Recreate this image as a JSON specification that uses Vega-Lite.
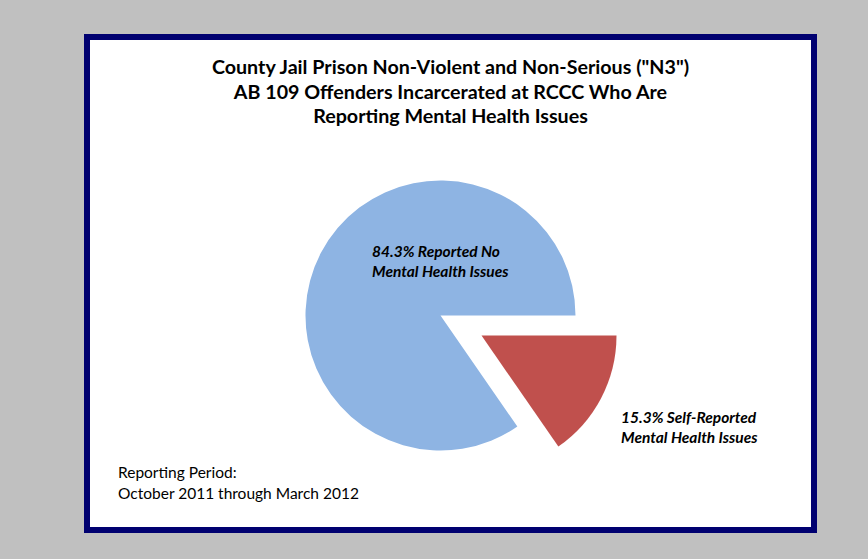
{
  "$schema": "https://vega.github.io/schema/vega-lite/v6.json",
  "width": 727,
  "height": 493,
  "autosize": {"type": "none"},
  "padding": {"left": 87, "top": 37, "right": 54, "bottom": 29},
  "background": "#C0C0C0",
  "view": {"fill": "white", "stroke": "#000070", "strokeWidth": 6},
  "config": {
    "font": "Lato"
  },
  "title": {
    "text": ["County Jail Prison Non-Violent and Non-Serious (\"N3\")", "AB 109  Offenders Incarcerated at RCCC Who Are", "Reporting Mental Health Issues"],
    "font": "Lato",
    "fontSize": 19.7,
    "fontWeight": "bold",
    "color": "black",
    "anchor": "middle",
    "frame": "group",
    "baseline": "top",
    "lineHeight": 24.5,
    "offset": -90
  },
  "data": {
    "values": [
      {"group": "No Mental Health Issues", "value": 84.3, "label": "84.3% Reported No\nMental Health Issues"},
      {"group": "Self-Reported Mental Health Issues", "value": 15.3, "label": "15.3% Self-Reported\nMental Health Issues"}
    ]
  },
  "layer": [
    {
      "mark": {"type": "arc", "outerRadius": 135, "xOffset": -10, "yOffset": 32},
      "encoding": {
        "theta": {"field": "value", "type": "quantitative", "stack": true, "scale": {"range": [1.5708, 7.854], "nice": false}},
        "order": {"field": "value", "type": "quantitative", "sort": "ascending"},
        "color": {"field": "group", "type": "nominal", "scale": {"domain": ["No Mental Health Issues", "Self-Reported Mental Health Issues"], "range": ["#8EB4E3", "#C0504D"]}, "legend": null},
        "opacity": {"condition": {"test": "datum.group === 'Self-Reported Mental Health Issues'", "value": 0}, "value": 1}
      }
    },
    {
      "mark": {"type": "arc", "outerRadius": 135, "xOffset": 31, "yOffset": 52},
      "encoding": {
        "theta": {"field": "value", "type": "quantitative", "stack": true},
        "order": {"field": "value", "type": "quantitative", "sort": "ascending"},
        "color": {"field": "group", "type": "nominal", "legend": null},
        "opacity": {"condition": {"test": "datum.group === 'No Mental Health Issues'", "value": 0}, "value": 1}
      }
    },
    {
      "transform": [{"filter": "datum.group === 'No Mental Health Issues'"}],
      "mark": {"type": "text", "x": 285, "y": 220, "align": "left", "baseline": "alphabetic", "lineBreak": "\n", "lineHeight": 20, "fontSize": 15.5, "fontWeight": "bold", "fontStyle": "italic", "color": "black"},
      "encoding": {"text": {"field": "label", "type": "nominal"}}
    },
    {
      "transform": [{"filter": "datum.group === 'Self-Reported Mental Health Issues'"}],
      "mark": {"type": "text", "x": 534, "y": 386, "align": "left", "baseline": "alphabetic", "lineBreak": "\n", "lineHeight": 20, "fontSize": 15.5, "fontWeight": "bold", "fontStyle": "italic", "color": "black"},
      "encoding": {"text": {"field": "label", "type": "nominal"}}
    },
    {
      "data": {"values": [{"note": "Reporting Period:\nOctober 2011 through March 2012"}]},
      "mark": {"type": "text", "x": 31, "y": 441, "align": "left", "baseline": "alphabetic", "lineBreak": "\n", "lineHeight": 21, "fontSize": 15.5, "color": "black"},
      "encoding": {"text": {"field": "note", "type": "nominal"}}
    }
  ]
}
